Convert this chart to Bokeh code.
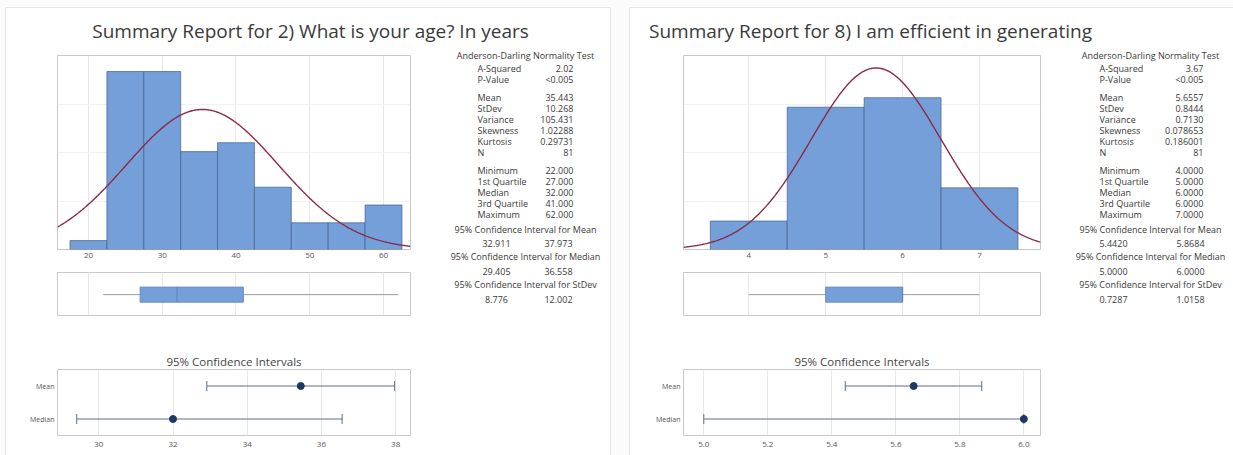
import numpy as np
from bokeh.plotting import figure
from bokeh.models import Range1d, LinearAxis, FixedTicker, Grid, Spacer
from bokeh.layouts import row, column
from bokeh.core.properties import value
from bokeh.embed import file_html
from bokeh.resources import INLINE

FONT = "Open Sans"
BLUE = "#749fd8"
EDGE = "#40608e"
CURVE = "#8c2a48"
TXT = "#3a3a3a"
GRID = "#e8e8e8"
FRAME = "#c9c9c9"

# ---------------- data: panel 1 (age) ----------------
age_title = "Summary Report for 2) What is your age? In years"
age_bin_centers = [20, 25, 30, 35, 40, 45, 50, 55, 60]
age_counts = [1, 20, 20, 11, 12, 7, 3, 3, 5]
age_bin_width = 5
age_ticks = [20, 30, 40, 50, 60]
age_mean = 35.443
age_sd = 10.268
age_n = 81
age_five = [22, 27, 32, 41, 62]          # min, Q1, median, Q3, max
age_ci_mean = [32.911, 37.973]
age_ci_median = [29.405, 36.558]
age_median = 32.0
age_ci_ticks = [30, 32, 34, 36, 38]
age_stat_labels = ["A-Squared", "P-Value",
                   "Mean", "StDev", "Variance", "Skewness", "Kurtosis", "N",
                   "Minimum", "1st Quartile", "Median", "3rd Quartile", "Maximum"]
age_stat_values = ["2.02", "<0.005",
                   "35.443", "10.268", "105.431", "1.02288", "0.29731", "81",
                   "22.000", "27.000", "32.000", "41.000", "62.000"]
age_ci_texts = [["32.911", "37.973"], ["29.405", "36.558"], ["8.776", "12.002"]]

# ---------------- data: panel 2 (efficiency) ----------------
eff_title = "Summary Report for 8) I am efficient in generating"
eff_bin_centers = [4, 5, 6, 7]
eff_counts = [6, 30, 32, 13]
eff_bin_width = 1
eff_ticks = [4, 5, 6, 7]
eff_mean = 5.6557
eff_sd = 0.8444
eff_n = 81
eff_five = [4, 5, 6, 6, 7]
eff_ci_mean = [5.4420, 5.8684]
eff_ci_median = [5.0, 6.0]
eff_median = 6.0
eff_ci_ticks = [5.0, 5.2, 5.4, 5.6, 5.8, 6.0]
eff_stat_labels = age_stat_labels
eff_stat_values = ["3.67", "<0.005",
                   "5.6557", "0.8444", "0.7130", "0.078653", "0.186001", "81",
                   "4.0000", "5.0000", "6.0000", "6.0000", "7.0000"]
eff_ci_texts = [["5.4420", "5.8684"], ["5.0000", "6.0000"], ["0.7287", "1.0158"]]

ci_rows = ["Mean", "Median"]
ci_headings = ["95% Confidence Interval for Mean",
               "95% Confidence Interval for Median",
               "95% Confidence Interval for StDev"]

# layout constants (pixel positions of text rows in the stats column)
STAT_Y = [68.3, 79.3, 96.7, 107.8, 118.9, 130.0, 141.1, 152.2,
          169.7, 180.8, 191.9, 203.0, 214.1]
HEAD_Y = 55.0
CI_HEAD_Y = [228.5, 256.0, 284.0]
CI_VAL_Y = [242.5, 270.5, 299.0]


def base_fig(width, height, xr, yr, left, right, top, bottom, outline=FRAME):
    p = figure(width=width, height=height, x_range=xr, y_range=yr,
               toolbar_location=None, output_backend="svg",
               x_axis_location=None, y_axis_location=None,
               min_border_left=left, min_border_right=right,
               min_border_top=top, min_border_bottom=bottom,
               background_fill_color="white", border_fill_color="white",
               outline_line_color=outline)
    p.grid.visible = False
    return p


def add_xaxis(p, ticks, standoff=3, fmt=None):
    ax = LinearAxis(ticker=FixedTicker(ticks=ticks), axis_line_color=None,
                    major_tick_line_color=None, minor_tick_line_color=None,
                    major_tick_out=0, major_tick_in=0,
                    major_label_text_font=FONT, major_label_text_font_size="8px",
                    major_label_text_color="#555555", major_label_standoff=standoff)
    if fmt:
        ax.major_label_overrides = {t: fmt.format(t) for t in ticks}
    p.add_layout(ax, "below")
    p.add_layout(Grid(dimension=0, ticker=FixedTicker(ticks=ticks),
                      grid_line_color=GRID, grid_line_width=1))
    return ax


def title_fig(width, text, cx):
    p = base_fig(width, 40, Range1d(0, width), Range1d(40, 0), 0, 0, 0, 0, outline=None)
    p.text(x=[cx], y=[22], text=[text], text_align="center", text_baseline="middle",
           text_font=value(FONT), text_font_size="19px", text_color=TXT)
    return p


def hist_fig(width, left, right, xr, ytop, centers, counts, bw, ticks, mean, sd, n):
    p = base_fig(width, 215, xr, Range1d(0, ytop), left, right, 7, 14)
    add_xaxis(p, ticks)
    p.add_layout(Grid(dimension=1, ticker=FixedTicker(ticks=list(np.arange(0, ytop, ytop / 4))[1:]),
                      grid_line_color="#f1f1f1"))
    c = np.array(centers, dtype=float)
    p.quad(left=c - bw / 2, right=c + bw / 2, bottom=0, top=counts,
           fill_color=BLUE, line_color=EDGE, line_width=0.7)
    xs = np.linspace(xr.start, xr.end, 400)
    ys = n * bw * np.exp(-0.5 * ((xs - mean) / sd) ** 2) / (sd * np.sqrt(2 * np.pi))
    p.line(xs, ys, line_color=CURVE, line_width=1.4)
    return p


def box_fig(width, left, right, xr, ticks, five):
    p = base_fig(width, 59, xr, Range1d(0, 1), left, right, 9, 7)
    p.add_layout(Grid(dimension=0, ticker=FixedTicker(ticks=ticks), grid_line_color=GRID))
    mn, q1, md, q3, mx = five
    p.segment(x0=[mn], x1=[mx], y0=[0.485], y1=[0.485], line_color="#9a9a9a", line_width=1)
    p.quad(left=[q1], right=[q3], bottom=[0.31], top=[0.66],
           fill_color=BLUE, line_color="#6a8fc4", line_width=1)
    p.segment(x0=[md], x1=[md], y0=[0.31], y1=[0.66], line_color="#5f84b8", line_width=1)
    return p


def ci_fig(width, left, right, xr, ticks, ci_mean, ci_median, mean, median, fmt):
    p = base_fig(width, 133, xr, Range1d(-0.5, 1.5), left, right, 47, 20)
    p.title.text = "95% Confidence Intervals"
    p.title.align = "center"
    p.title.text_font = FONT
    p.title.text_font_size = "11.5px"
    p.title.text_font_style = "normal"
    p.title.text_color = "#444444"
    p.title.standoff = 2
    add_xaxis(p, ticks, standoff=6, fmt=fmt)
    yax = LinearAxis(ticker=FixedTicker(ticks=[1, 0]), axis_line_color=None,
                     major_tick_line_color=None, minor_tick_line_color=None,
                     major_tick_out=0, major_tick_in=0,
                     major_label_text_font=FONT, major_label_text_font_size="7px",
                     major_label_text_color="#555555", major_label_standoff=3,
                     major_label_overrides={1: ci_rows[0], 0: ci_rows[1]})
    p.add_layout(yax, "left")
    ys = [1, 0]
    lo = [ci_mean[0], ci_median[0]]
    hi = [ci_mean[1], ci_median[1]]
    p.segment(x0=lo, x1=hi, y0=ys, y1=ys, line_color="#5b6f8f", line_width=1)
    p.scatter(x=lo + hi, y=ys + ys, marker="dash", angle=np.pi / 2, size=10,
              line_color="#5b6f8f", line_width=1)
    p.scatter(x=[mean, median], y=ys, size=7, fill_color="#1d3766", line_color="#1d3766")
    return p


def stats_fig(width, x0, head_cx, lab_x, val_x, ci_x, labels, values, ci_vals):
    p = base_fig(width, 407, Range1d(x0, x0 + width), Range1d(455, 48), 0, 0, 0, 0, outline=None)
    common = dict(text_font=value(FONT), text_font_size="9px", text_color=TXT,
                  text_baseline="middle")
    p.text(x=[head_cx] + [head_cx] * 3, y=[HEAD_Y] + CI_HEAD_Y,
           text=["Anderson-Darling Normality Test"] + ci_headings,
           text_align="center", **common)
    p.text(x=[lab_x] * len(labels), y=STAT_Y, text=labels, text_align="left", **common)
    p.text(x=[val_x] * len(values), y=STAT_Y, text=values, text_align="right", **common)
    p.text(x=[ci_x[0]] * 3 + [ci_x[1]] * 3, y=CI_VAL_Y + CI_VAL_Y,
           text=[v[0] for v in ci_vals] + [v[1] for v in ci_vals],
           text_align="center", **common)
    return p


# ---------------- panel 1 ----------------
xr1 = Range1d(15.8, 63.66)
h1 = hist_fig(414, 51, 6, xr1, 21.8, age_bin_centers, age_counts, age_bin_width,
              age_ticks, age_mean, age_sd, age_n)
b1 = box_fig(414, 51, 6, xr1, age_ticks, age_five)
c1 = ci_fig(414, 51, 10, Range1d(28.887, 38.40), age_ci_ticks, age_ci_mean, age_ci_median,
            age_mean, age_median, "{:.0f}")
s1 = stats_fig(190, 420, 525, 477, 573, [496, 558], age_stat_labels, age_stat_values, age_ci_texts)
t1 = title_fig(604, age_title, 304)
panel1 = column(t1, row(column(h1, b1, c1, styles={"background-color": "white"}), s1,
                        styles={"background-color": "white"}),
                styles={"background-color": "white", "box-shadow": "0 0 0 1px #e6e6e6"})

# ---------------- panel 2 ----------------
xr2 = Range1d(3.151, 7.793)
h2 = hist_fig(415, 53, 5, xr2, 40.9, eff_bin_centers, eff_counts, eff_bin_width,
              eff_ticks, eff_mean, eff_sd, eff_n)
b2 = box_fig(415, 53, 5, xr2, eff_ticks, eff_five)
c2 = ci_fig(415, 53, 5, Range1d(4.9366, 6.052), eff_ci_ticks, eff_ci_mean, eff_ci_median,
            eff_mean, eff_median, "{:.1f}")
s2 = stats_fig(188, 1045, 1150, 1099, 1203, [1113, 1190], eff_stat_labels, eff_stat_values, eff_ci_texts)
t2 = title_fig(603, eff_title, 240)
panel2 = column(t2, row(column(h2, b2, c2, styles={"background-color": "white"}), s2,
                        styles={"background-color": "white"}),
                styles={"background-color": "white", "box-shadow": "0 0 0 1px #e6e6e6"})

root = column(Spacer(width=1233, height=8),
              row(Spacer(width=6, height=447), panel1, Spacer(width=20, height=447), panel2),
              styles={"background-color": "#fbfbfb"})

open("out.html", "w").write(file_html(root, INLINE))
